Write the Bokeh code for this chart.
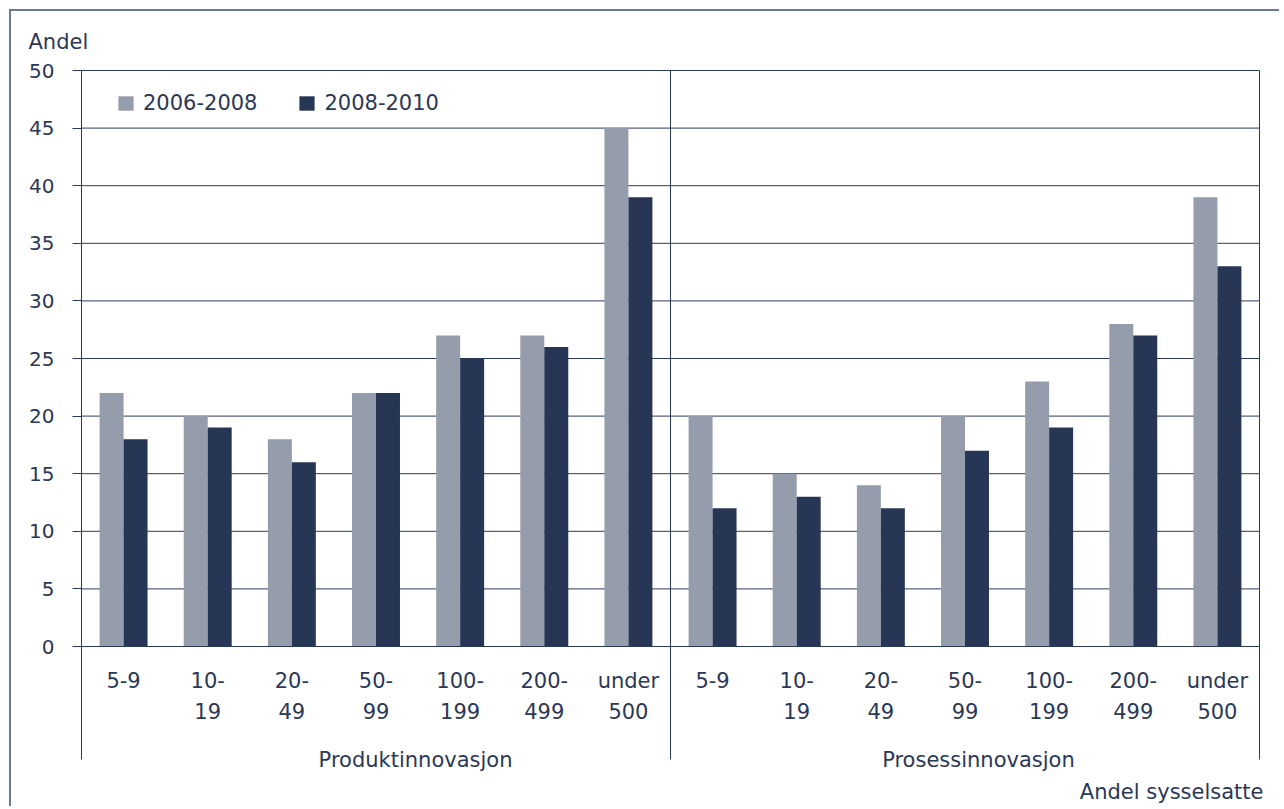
from bokeh.plotting import figure
from bokeh.models import (Range1d, LinearAxis, FixedTicker, Span, Legend, LegendItem, Title)
from bokeh.embed import file_html
from bokeh.resources import INLINE

# ---- data ----
groups = ["Produktinnovasjon", "Prosessinnovasjon"]
size_labels = ["5-9", "10-\n19", "20-\n49", "50-\n99", "100-\n199", "200-\n499", "under\n500"]
series_names = ["2006-2008", "2008-2010"]
produkt_0608 = [22, 20, 18, 22, 27, 27, 45]
produkt_0810 = [18, 19, 16, 22, 25, 26, 39]
prosess_0608 = [20, 15, 14, 20, 23, 28, 39]
prosess_0810 = [12, 13, 12, 17, 19, 27, 33]
y_ticks = [0, 5, 10, 15, 20, 25, 30, 35, 40, 45, 50]
y_title = "Andel"
x_title = "Andel sysselsatte"

NAVY = "#2b3a5c"
TEXT = "#2b3856"
GRAY_BAR = "#959cab"
DARK_BAR = "#283655"
FONT = "DejaVu Sans"
FS = "21px"
FS_TICK = "20px"

n = len(size_labels)
ncat = n * len(groups)
centers = [i + 0.5 for i in range(ncat)]
vals_a = produkt_0608 + prosess_0608
vals_b = produkt_0810 + prosess_0810
# group label anchors (the source places them slightly right of the group centres)
group_label_x = [n / 2 + 0.47, n + n / 2 + 0.16]

bw = 0.285
p = figure(width=1270, height=797, x_range=Range1d(0, ncat), y_range=Range1d(0, 50),
           output_backend="svg", toolbar_location=None,
           min_border_left=70, min_border_right=22, min_border_top=59, min_border_bottom=162,
           x_axis_type=None, y_axis_type=None)
p.styles = {"margin-left": "9px", "margin-top": "9px",
            "border-top": "2px solid #6d7a95", "border-left": "2px solid #6d7a95"}
p.outline_line_color = NAVY
p.outline_line_width = 1
p.background_fill_color = "white"
p.border_fill_color = "white"

# titles
p.title.text = y_title
p.title.align = "left"
p.title.offset = -53
p.title.standoff = 33
p.title.text_font = FONT
p.title.text_font_size = FS
p.title.text_font_style = "normal"
p.title.text_color = TEXT

# y axis
yax = LinearAxis(ticker=FixedTicker(ticks=y_ticks, minor_ticks=[]))
yax.axis_line_color = NAVY
yax.major_tick_line_color = NAVY
yax.major_tick_out = 9
yax.major_tick_in = 0
yax.major_label_standoff = 18
yax.major_label_text_font = FONT
yax.major_label_text_font_size = FS_TICK
yax.major_label_text_color = TEXT
p.add_layout(yax, "left")

# grid lines
p.ygrid.grid_line_color = None
for t in y_ticks[1:-1]:
    p.add_layout(Span(location=t, dimension="width", line_color=NAVY, line_width=1, level="underlay"))
p.add_layout(Span(location=n, dimension="height", line_color=NAVY, line_width=1))

# x axis: size classes (minor ticks draw the group boundary lines below the frame)
xax = LinearAxis(ticker=FixedTicker(ticks=centers, minor_ticks=[0, n, ncat]))
xax.major_label_overrides = {c: size_labels[i % n] for i, c in enumerate(centers)}
xax.axis_line_color = NAVY
xax.major_tick_line_color = None
xax.major_tick_out = 0
xax.major_tick_in = 0
xax.minor_tick_line_color = NAVY
xax.minor_tick_out = 113
xax.minor_tick_in = 0
xax.major_label_standoff = -91
xax.major_label_text_font = FONT
xax.major_label_text_font_size = FS
xax.major_label_text_color = TEXT
xax.major_label_text_line_height = 1.3
p.add_layout(xax, "below")

# x axis: groups
gax = LinearAxis(ticker=FixedTicker(ticks=group_label_x, minor_ticks=[]))
gax.major_label_overrides = {group_label_x[0]: groups[0], group_label_x[1]: groups[1]}
gax.axis_line_color = None
gax.major_tick_line_color = None
gax.major_tick_out = 0
gax.major_tick_in = 0
gax.major_label_standoff = 21
gax.major_label_text_font = FONT
gax.major_label_text_font_size = FS
gax.major_label_text_color = TEXT
p.add_layout(gax, "below")

p.add_layout(Title(text=x_title, align="right", offset=-4, standoff=6,
                   text_font=FONT, text_font_size=FS, text_font_style="normal",
                   text_color=TEXT), "below")

# bars
xa = [c - bw / 2 for c in centers]
xb = [c + bw / 2 for c in centers]
ra = p.vbar(x=xa, top=vals_a, width=bw, bottom=0, fill_color=GRAY_BAR, line_color=None)
rb = p.vbar(x=xb, top=vals_b, width=bw, bottom=0, fill_color=DARK_BAR, line_color=None)

legend = Legend(items=[LegendItem(label=series_names[0], renderers=[ra]),
                       LegendItem(label=series_names[1], renderers=[rb])],
                location=(35, 531), orientation="horizontal")
legend.background_fill_alpha = 0
legend.border_line_color = None
legend.padding = 0
legend.margin = 0
legend.spacing = 40
legend.label_standoff = 8
legend.glyph_width = 19
legend.glyph_height = 18
legend.label_text_font = FONT
legend.label_text_font_size = FS
legend.label_text_color = TEXT
p.add_layout(legend, "center")

open("out.html", "w").write(file_html(p, INLINE))
